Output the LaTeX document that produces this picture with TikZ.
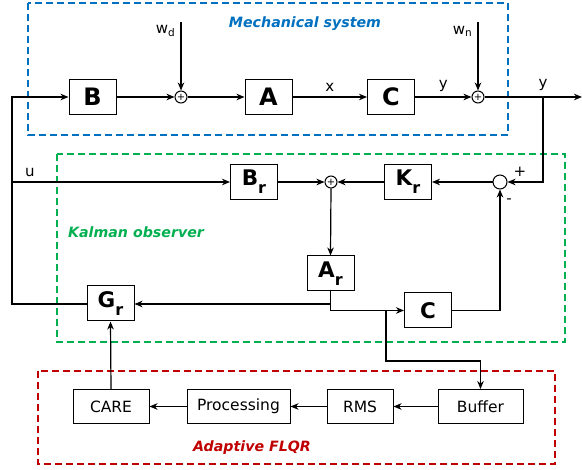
\documentclass[tikz,border=0pt]{standalone}
\usepackage{fontspec}
\setmainfont{DejaVu Sans}
\usetikzlibrary{arrows.meta,calc}
\definecolor{mblue}{RGB}{0,112,192}
\definecolor{mgreen}{RGB}{0,176,80}
\definecolor{mred}{RGB}{192,0,0}
\begin{document}
\begin{tikzpicture}[x=1pt,y=-1pt,
  line width=1.2pt,
  arr/.style={-{Stealth[length=8pt,width=6.5pt,inset=2.5pt]}},
  bigblk/.style={draw, line width=1pt, minimum width=47pt, minimum height=35pt, inner sep=0pt, font=\bfseries\fontsize{24}{24}\selectfont},
  midblk/.style={draw, line width=1pt, minimum width=47pt, minimum height=35pt, inner sep=0pt, font=\bfseries\fontsize{21.5}{21.5}\selectfont},
  txtblk/.style={draw, line width=1pt, minimum height=34pt, inner sep=0pt, font=\fontsize{15.5}{15.5}\selectfont},
  sumc/.style={draw, circle, line width=1pt, minimum size=12pt, inner sep=0pt, font=\fontsize{10}{10}\selectfont},
  lbl/.style={font=\fontsize{15}{15}\selectfont, inner sep=0pt},
  grp/.style={dash pattern=on 7pt off 4pt, line width=2pt},
  title/.style={font=\bfseries\itshape\fontsize{14.2}{14.2}\selectfont, inner sep=0pt}
]
\useasboundingbox (0,0) rectangle (582,470);
\newcommand{\subr}{\raisebox{-8pt}{\fontsize{16}{16}\selectfont r}}

% group frames
\draw[grp, mblue] (28,3) rectangle (508,135);
\draw[grp, mgreen] (57,154) rectangle (565,342);
\draw[grp, mred] (38,371) rectangle (555,464);
\node[title, text=mblue] (tmech) at (305,24) {Mechanical system};
\node[title, text=mgreen] (tkal) at (136,232) {Kalman observer};
\node[title, text=mred] (tflqr) at (252,448) {Adaptive FLQR};

% mechanical system
\node[bigblk] (B) at (92.5,97) {B};
\node[sumc] (s1) at (181,97) {+};
\node[bigblk] (A) at (268.5,97) {A};
\node[bigblk] (C) at (391,97) {C};
\node[sumc] (s2) at (478,97) {+};
\coordinate (wdtop) at (181,22);
\coordinate (wntop) at (478,22);
\coordinate (out) at (582,97);
\coordinate (ybr) at (543,97);
\node[lbl, anchor=east] (wd) at (176,31) {w\textsubscript{d}};
\node[lbl, anchor=east] (wn) at (473,31) {w\textsubscript{n}};

% observer
\node[midblk] (Br) at (254,182) {B\subr};
\node[sumc] (s3) at (331,182) {+};
\node[midblk] (Kr) at (408,182) {K\subr};
\node[draw, circle, line width=1pt, minimum size=14pt, inner sep=0pt] (m) at (500,182) {};
\node[midblk] (Ar) at (330.5,273.5) {A\subr};
\node[midblk] (C2) at (428,310.5) {C};
\node[midblk] (Gr) at (110.5,303.5) {G\subr};

% FLQR
\node[txtblk, minimum width=85pt] (buf) at (480.5,406.5) {Buffer};
\node[txtblk, minimum width=66pt] (rms) at (360,406.5) {RMS};
\node[txtblk, minimum width=103pt] (proc) at (238.5,406.5) {Processing};
\node[txtblk, minimum width=76pt] (care) at (111,406.5) {CARE};

% connectors top
\draw[arr] (B.east) -- (s1.west);
\draw[arr] (wdtop) -- (s1.north);
\draw[arr] (s1.east) -- (A.west);
\draw[arr] (A.east) -- node[lbl, above=5pt] (xl) {x} (C.west);
\draw[arr] (C.east) -- node[lbl, above=5pt] (yl) {y} (s2.west);
\draw[arr] (wntop) -- (s2.north);
\draw[arr] (s2.east) -- (out);
\node[lbl] (yl2) at (543,85) {y};
\draw[arr] (ybr) |- (m.east);
\node[lbl] (plus) at (520,172) {+};
\node[lbl] (minus) at (509,201) {-};

% observer connectors
\draw[arr] (m.west) -- (Kr.east);
\draw[arr] (Kr.west) -- (s3.east);
\draw[arr] (Br.east) -- (s3.west);
\draw[arr] (s3.south) -- (Ar.north);
\coordinate (j1) at (330.5,304);
\coordinate (j2) at (386,311);
\draw[arr] (Ar.south) |- (C2.west);
\draw[arr] (j1) -- (Gr.east |- j1);
\draw[arr] (C2.east) -| (m.south);
\draw[arr] (j2) -- (386,361) -| (buf.north);

% feedback u
\coordinate (lf) at (12,304);
\coordinate (lt) at (12,97);
\coordinate (ub) at (12,182);
\draw[arr] (Gr.west |- lf) -- (lf) -- (lt) -- (B.west);
\draw[arr] (ub) -- (Br.west);
\node[lbl] (ul) at (30,172) {u};

% FLQR connectors
\draw[arr] (buf.west) -- (rms.east);
\draw[arr] (rms.west) -- (proc.east);
\draw[arr] (proc.west) -- (care.east);
\draw[arr] (care.north) -- (Gr.south);
\end{tikzpicture}
\end{document}
